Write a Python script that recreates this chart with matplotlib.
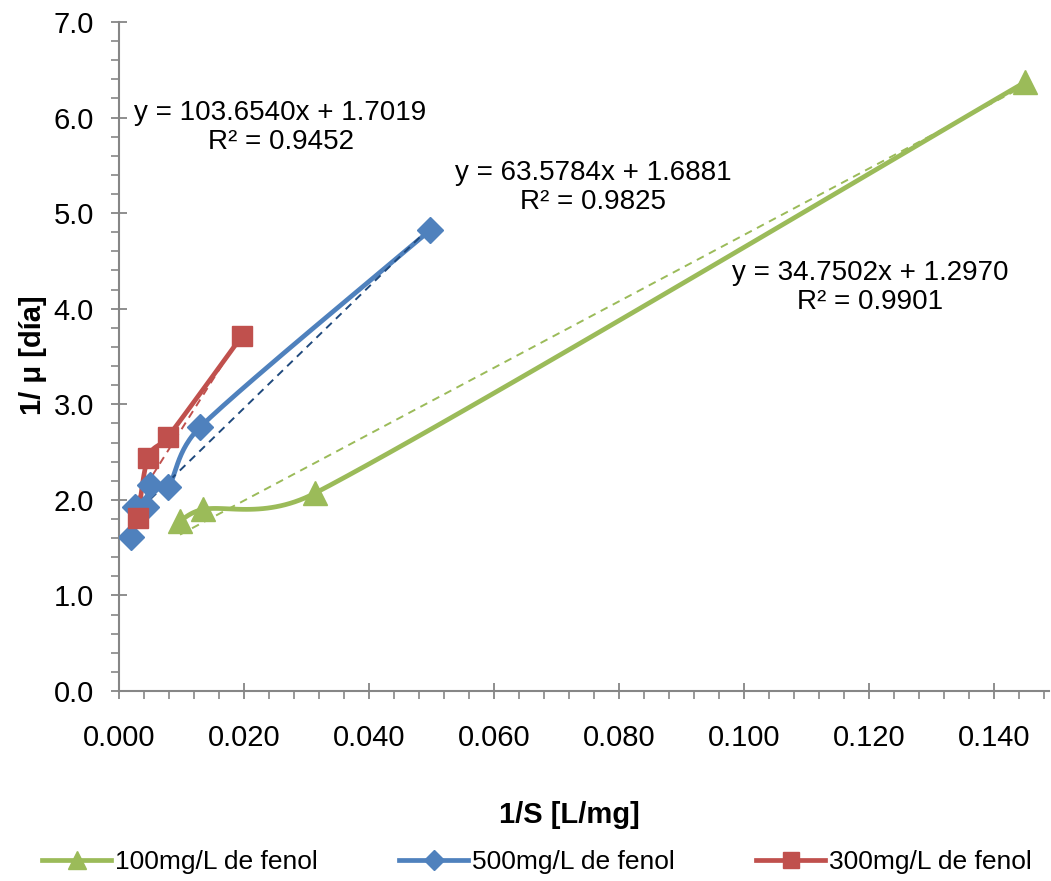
import numpy as np
import matplotlib
matplotlib.use("Agg")
import matplotlib.pyplot as plt
from matplotlib import font_manager as fm
from matplotlib.lines import Line2D

# data
x100 = [0.00976, 0.01344, 0.03136, 0.14496]
y100 = [1.78, 1.90, 2.07, 6.37]
x500 = [0.00192, 0.00256, 0.00432, 0.00496, 0.00784, 0.01296, 0.04976]
y500 = [1.61, 1.93, 1.93, 2.155, 2.135, 2.76, 4.82]
x300 = [0.00304, 0.00464, 0.00784, 0.01968]
y300 = [1.81, 2.44, 2.66, 3.715]

fit100 = (34.7502, 1.2970)
fit500 = (63.5784, 1.6881)
fit300 = (103.6540, 1.7019)
eq100 = "y = 34.7502x + 1.2970\nR² = 0.9901"
eq500 = "y = 63.5784x + 1.6881\nR² = 0.9825"
eq300 = "y = 103.6540x + 1.7019\nR² = 0.9452"
labels = ["100mg/L de fenol", "500mg/L de fenol", "300mg/L de fenol"]

green = "#9BBB59"
blue = "#4F81BD"
red = "#C0504D"
gray = "#868686"

names = [f.name for f in fm.fontManager.ttflist]
narrow = "Liberation Sans Narrow" if "Liberation Sans Narrow" in names else "Liberation Sans"
plt.rcParams['font.family'] = [narrow, 'DejaVu Sans']

fig = plt.figure(figsize=(10.51, 8.81), dpi=100)
ax = fig.add_axes([119/1051, (881-691)/881, (1049-119)/1051, (691-22)/881])
ax.set_xlim(0, 0.1488)
ax.set_ylim(0, 7.0)


def smooth(ax, xs, ys, n=30):
    # excel-like smoothed line (bezier in screen space)
    P = ax.transData.transform(np.column_stack([xs, ys]))
    out = [P[0]]
    for i in range(len(P) - 1):
        p0 = P[i - 1] if i > 0 else P[i]
        p1, p2 = P[i], P[i + 1]
        p3 = P[i + 2] if i + 2 < len(P) else P[i + 1]
        d12 = np.linalg.norm(p2 - p1)
        t1 = (p2 - p0) / 6
        t2 = (p3 - p1) / 6
        for t in (t1, t2):
            L = np.linalg.norm(t)
            if L > d12 * 0.5:
                t *= d12 * 0.5 / L
        c1 = p1 + t1
        c2 = p2 - t2
        s = np.linspace(0, 1, n)[1:, None]
        pts = (1-s)**3*p1 + 3*(1-s)**2*s*c1 + 3*(1-s)*s**2*c2 + s**3*p2
        out.extend(pts)
    out = np.array(out)
    return ax.transData.inverted().transform(out)


for xs, ys, fit, tc in [(x100, y100, fit100, green),
                        (x500, y500, fit500, "#1F497D"),
                        (x300, y300, fit300, red)]:
    xx = np.array([min(xs), max(xs)])
    ax.plot(xx, fit[0]*xx + fit[1], ls=(0, (4, 3)), color=tc, lw=1.4, zorder=4)

series = [(x100, y100, green, '^', 17), (x500, y500, blue, 'D', 13), (x300, y300, red, 's', 15)]
for xs, ys, c, m, ms in series:
    curve = smooth(ax, xs, ys)
    ax.plot(curve[:, 0], curve[:, 1], color=c, lw=3.4, zorder=3, solid_capstyle='round')
    ax.plot(xs, ys, ls='none', marker=m, ms=ms, color=c, zorder=5)

ax.text(0.02585, 5.9, eq300, ha='center', va='center', fontsize=20, linespacing=1.15)
ax.text(0.07585, 5.27, eq500, ha='center', va='center', fontsize=20, linespacing=1.15)
ax.text(0.1202, 4.22, eq100, ha='center', va='center', fontsize=20, linespacing=1.15,
        family=['Liberation Sans', 'DejaVu Sans'])

ax.set_xticks(np.arange(0, 0.141, 0.02))
ax.set_xticklabels(["%.3f" % v for v in np.arange(0, 0.141, 0.02)])
ax.set_yticks(np.arange(0, 7.01, 1.0))
ax.set_yticklabels(["%.1f" % v for v in np.arange(0, 7.01, 1.0)], family=['Liberation Sans', 'DejaVu Sans'])
ax.set_xticks(np.arange(0, 0.1489, 0.004), minor=True)
ax.set_yticks(np.arange(0, 7.01, 0.2), minor=True)
ax.tick_params(which='major', direction='inout', length=12, width=1.3, color=gray, labelsize=21)
ax.tick_params(which='minor', direction='out', length=6, width=1.2, color=gray)
ax.tick_params(axis='x', which='major', pad=18)
ax.tick_params(axis='y', which='major', pad=12)
for s in ['top', 'right']:
    ax.spines[s].set_visible(False)
for s in ['left', 'bottom']:
    ax.spines[s].set_color(gray)
    ax.spines[s].set_linewidth(1.5)

fig.text(569/1051, 1 - 815/881, "1/S [L/mg]", ha='center', va='center', fontsize=21, fontweight='bold')
fig.text(33/1051, 1 - 355/881, "1/ μ [día]", ha='center', va='center', rotation=90, fontsize=21,
         fontweight='bold', family=['Liberation Sans', 'DejaVu Sans'])

handles = [Line2D([], [], color=c, lw=3.4, marker=m, ms=ms * 0.8) for _, _, c, m, ms in series]
fig.legend(handles, labels, loc='center', bbox_to_anchor=(537/1051, 1 - 862/881), ncol=3, frameon=False,
           fontsize=19, handlelength=2.6, columnspacing=3.1, handletextpad=0.15, borderpad=0.1)

fig.savefig("out.png", dpi=100)
